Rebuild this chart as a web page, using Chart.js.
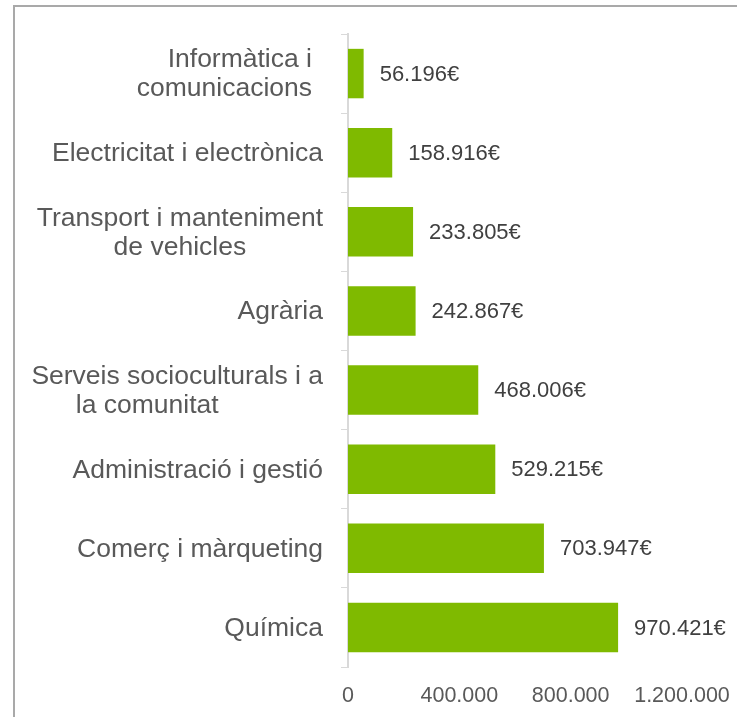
<!DOCTYPE html>
<html>
<head>
<meta charset="utf-8">
<script src="https://cdn.jsdelivr.net/npm/chart.js@4"></script>
<style>
  html, body { margin: 0; padding: 0; background: #fff; overflow: hidden; }
  #frame { position: absolute; left: 13px; top: 5px; width: 800px; height: 800px; border: 2px solid #a9a9a9; box-sizing: border-box; }
  #c { position: absolute; left: 0; top: 0; }
</style>
</head>
<body>
<div id="frame"></div>
<canvas id="c" width="737" height="717"></canvas>
<script>
const categories = [
  ['Informàtica i', 'comunicacions'],
  ['Electricitat i electrònica'],
  ['Transport i manteniment', 'de vehicles'],
  ['Agrària'],
  ['Serveis socioculturals i a', 'la comunitat'],
  ['Administració i gestió'],
  ['Comerç i màrqueting'],
  ['Química']
];
const values = [56196, 158916, 233805, 242867, 468006, 529215, 703947, 970421];
const xTicks = [0, 400000, 800000, 1200000];

const FONT = '"Liberation Sans", Arial, sans-serif';
function fmt(n) { return String(n).replace(/\B(?=(\d{3})+(?!\d))/g, '.'); }

// how each wrapped label is laid out in the source picture
const labelLayout = [
  { align: 'right', shift: -11 },
  { align: 'center', shift: 0 },
  { align: 'center', shift: 0 },
  { align: 'center', shift: 0 },
  { align: 'center', shift: 0, line2Shift: -30 },
  { align: 'center', shift: 0 },
  { align: 'center', shift: 0 },
  { align: 'center', shift: 0 }
];

const labelPlugin = {
  id: 'labels',
  afterDraw(chart) {
    const ctx = chart.ctx;
    const y = chart.scales.y;
    ctx.save();
    ctx.font = '26.5px ' + FONT;
    ctx.fillStyle = '#595959';
    ctx.textBaseline = 'middle';
    const right = chart.chartArea.left - 25;
    const lh = 29;
    categories.forEach((lines, i) => {
      const lay = labelLayout[i];
      const cy = y.getPixelForValue(i) + 1;
      const top = cy - (lines.length - 1) * lh / 2;
      const r = right + lay.shift;
      if (lay.align === 'right') {
        ctx.textAlign = 'right';
        lines.forEach((l, j) => ctx.fillText(l, r, top + j * lh));
      } else {
        ctx.textAlign = 'center';
        const w = Math.max(...lines.map(l => ctx.measureText(l).width));
        const cx = r - w / 2;
        lines.forEach((l, j) => ctx.fillText(l, cx + (j === 1 && lay.line2Shift ? lay.line2Shift : 0), top + j * lh));
      }
    });
    // value labels
    ctx.font = '22px ' + FONT;
    ctx.fillStyle = '#404040';
    ctx.textAlign = 'left';
    const meta = chart.getDatasetMeta(0);
    meta.data.forEach((bar, i) => {
      ctx.fillText(fmt(values[i]) + '€', bar.x + 16, bar.y + 1);
    });
    ctx.restore();
  }
};

new Chart(document.getElementById('c'), {
  type: 'bar',
  data: {
    labels: categories,
    datasets: [{
      data: values,
      backgroundColor: '#7fba00',
      borderWidth: 0,
      categoryPercentage: 1,
      barPercentage: 0.625
    }]
  },
  options: {
    indexAxis: 'y',
    responsive: false,
    devicePixelRatio: 1,
    animation: false,
    layout: { padding: { left: 0, top: 34, right: 55, bottom: 0 } },
    plugins: { legend: { display: false }, tooltip: { enabled: false } },
    scales: {
      x: {
        min: 0,
        max: 1200000,
        afterBuildTicks(scale) { scale.ticks = xTicks.map(v => ({ value: v })); },
        afterFit(scale) { scale.height = 50; scale.paddingLeft = 0; scale.paddingRight = 0; },
        grid: { display: false, drawTicks: false },
        border: { display: false },
        ticks: {
          padding: 16,
          color: '#595959',
          font: { family: FONT, size: 21.5 },
          callback: v => fmt(v)
        }
      },
      y: {
        afterFit(scale) { scale.width = 348; },
        grid: { display: true, drawOnChartArea: false, drawTicks: true, tickLength: 7, color: '#d9d9d9', offset: true },
        border: { display: true, color: '#d9d9d9', width: 2 },
        ticks: { display: false }
      }
    }
  },
  plugins: [labelPlugin]
});
</script>
</body>
</html>
